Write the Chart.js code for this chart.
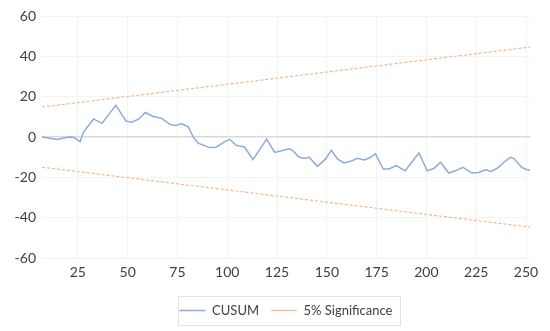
<!DOCTYPE html>
<html>
<head>
<meta charset="utf-8">
<script src="https://cdn.jsdelivr.net/npm/chart.js@4/dist/chart.umd.min.js"></script>
<style>
  body { margin: 0; background: #fff; }
  #wrap { width: 550px; height: 331px; }
</style>
</head>
<body>
<div id="wrap"><canvas id="cusumChart"></canvas></div>
<script>
const cusumX = [7, 14.6, 17.9, 21.2, 23, 26.2, 27.9, 32.9, 37.1, 40.4, 44.1, 49.2, 52.1, 55.9, 58.8, 62.9,
  67.1, 71.2, 73.8, 77.1, 80.4, 82.9, 85.4, 91.2, 94.4, 98.6, 101.2, 104.5, 108.7, 112.9, 119.8, 123.8,
  127.8, 131.1, 132.8, 136.1, 138.6, 141.1, 145.3, 149.4, 152.3, 155.3, 158.6, 161.9, 165.3, 168.6, 171.1,
  174.4, 178.3, 181.1, 184.9, 189.3, 196.2, 200.4, 203.8, 207.1, 211.2, 214.6, 218.3, 222.9, 226.2, 229.6,
  232.6, 236.2, 239.2, 242.1, 243.8, 247.9, 250.4, 252];
const cusumY = [0, -1.2, -0.5, 0, -0.2, -2.2, 2.6, 9.0, 6.8, 11, 15.7, 7.9, 7.4, 9.1, 12.2, 10.2,
  9.3, 6.3, 5.8, 6.6, 5.1, 0.1, -3.0, -5.2, -5.0, -2.4, -1.1, -4.1, -4.9, -11.2, -1.0, -7.6,
  -6.6, -5.8, -6.6, -10, -10.5, -10, -14.5, -10.8, -6.6, -10.8, -12.8, -12, -10.5, -11.3, -10.5,
  -8.3, -15.8, -15.8, -14.1, -16.7, -7.9, -16.7, -15.5, -12.5, -17.8, -16.7, -15, -17.8, -17.5, -16.2,
  -17, -15, -12.2, -10, -10.5, -15, -16.2, -16.4];

// 5% significance bounds (straight lines between the end points)
const boundX = [7, 252];
const upperBound = [14.9, 44.6];
const lowerBound = [-14.9, -44.6];

const xTicks = [25, 50, 75, 100, 125, 150, 175, 200, 225, 250];
const yTicks = [-60, -40, -20, 0, 20, 40, 60];

const pts = (xs, ys) => xs.map((x, i) => ({ x: x, y: ys[i] }));

// centre the legend under the plot area and frame it
const legendBox = {
  id: "legendBox",
  afterUpdate(chart) {
    const lg = chart.legend;
    if (!lg) return;
    const shift = (chart.chartArea.left + chart.chartArea.right) / 2 - (lg.left + lg.right) / 2;
    lg.left += shift;
    lg.right += shift;
    lg.adjustHitBoxes();
  },
  afterDraw(chart) {
    const lg = chart.legend;
    if (!lg || !lg.lineWidths) return;
    const cx = (lg.left + lg.right) / 2;
    const w = lg.lineWidths[0];
    const left = Math.round(cx - w / 2 + 4);
    const right = Math.round(cx + w / 2 + 2);
    const top = Math.round(lg.top + 4);
    const bottom = Math.round(lg.bottom - 2);
    const ctx = chart.ctx;
    ctx.save();
    ctx.strokeStyle = "#e3e3e3";
    ctx.lineWidth = 1;
    ctx.strokeRect(left + 0.5, top + 0.5, right - left, bottom - top);
    ctx.restore();
  }
};

Chart.defaults.font.family = "Lato, 'Liberation Sans', sans-serif";
Chart.defaults.color = "#404040";

new Chart(document.getElementById("cusumChart"), {
  type: "line",
  data: {
    datasets: [
      {
        label: "CUSUM",
        data: pts(cusumX, cusumY),
        borderColor: "#8eaadb",
        borderWidth: 1.5,
        pointRadius: 0,
        tension: 0
      },
      {
        label: "5% Significance",
        data: pts(boundX, upperBound),
        borderColor: "#f4b183",
        borderWidth: 1.1,
        borderDash: [3, 2],
        pointRadius: 0
      },
      {
        label: "lower",
        data: pts(boundX, lowerBound),
        borderColor: "#f4b183",
        borderWidth: 1.1,
        borderDash: [3, 2],
        pointRadius: 0
      }
    ]
  },
  options: {
    responsive: true,
    maintainAspectRatio: false,
    animation: false,
    layout: { padding: { top: 16, right: 20, left: 0, bottom: 4 } },
    scales: {
      x: {
        type: "linear",
        min: 7,
        max: 252,
        afterBuildTicks: (s) => { s.ticks = xTicks.map(v => ({ value: v })); },
        afterFit: (s) => { s.height += 5; },
        grid: { color: "#f3f3f3", drawTicks: false },
        border: { display: false },
        ticks: { font: { size: 14 }, padding: 6, maxRotation: 0 }
      },
      y: {
        min: -60,
        max: 60,
        afterBuildTicks: (s) => { s.ticks = yTicks.map(v => ({ value: v })); },
        afterFit: (s) => { s.width = 42; },
        grid: {
          color: (c) => c.tick && c.tick.value === 0 ? "#d9d9d9" : "#f3f3f3",
          lineWidth: (c) => c.tick && c.tick.value === 0 ? 1.5 : 1,
          drawTicks: false
        },
        border: { display: false },
        ticks: { font: { size: 14 }, padding: 6 }
      }
    },
    plugins: {
      legend: {
        position: "bottom",
        labels: {
          filter: (item) => item.text !== "lower",
          usePointStyle: true,
          pointStyle: "line",
          pointStyleWidth: 26,
          boxHeight: 10,
          padding: 12,
          font: { size: 13 },
          color: "#404040"
        }
      },
      tooltip: { enabled: false }
    }
  },
  plugins: [legendBox]
});
</script>
</body>
</html>
